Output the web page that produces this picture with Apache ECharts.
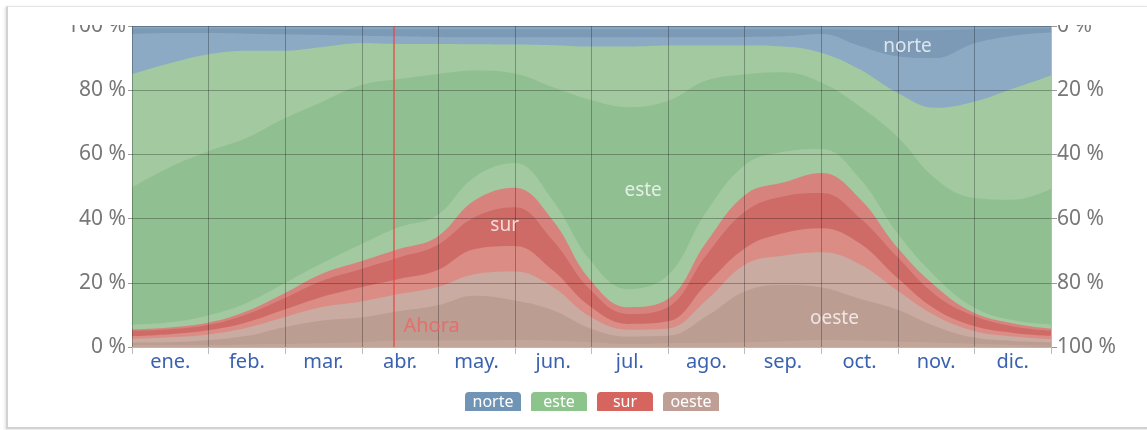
<!DOCTYPE html>
<html>
<head>
<meta charset="utf-8">
<script src="https://cdn.jsdelivr.net/npm/echarts@6/dist/echarts.min.js"></script>
<style>
  html, body { margin: 0; padding: 0; background: #fff; width: 1147px; height: 430px; overflow: hidden; }
  #card { position: absolute; left: 6px; top: 6px; width: 1141px; height: 420px;
          border-top: 1px solid #e6e6e6; border-left: 2px solid #d2d2d2; border-bottom: 2px solid #d2d2d2;
          box-shadow: -1px 1px 3px rgba(0,0,0,0.12); }
  #clip { position: absolute; left: 0; top: 25px; width: 1147px; height: 401px; overflow: hidden; }
  #chart { position: absolute; left: 0; top: -25px; width: 1147px; height: 430px; }
</style>
</head>
<body>
<div id="card"></div>
<div id="clip"><div id="chart"></div></div>
<script>
// meses del eje x
var months = ['ene.', 'feb.', 'mar.', 'abr.', 'may.', 'jun.', 'jul.', 'ago.', 'sep.', 'oct.', 'nov.', 'dic.'];

// día del año de cada muestra
var days = [0, 15, 31, 46, 60, 75, 91, 106, 121, 136, 152, 167, 182, 197, 213, 228, 244, 259, 274, 289, 304, 319, 334, 350, 365];

// borde superior (acumulado, % de horas) de cada banda, de arriba abajo
var norte   = [99.2, 99.2, 99.2, 99.2, 99.1, 99.1, 99.0, 99.0, 99.0, 99.0, 99.0, 99.0, 99.0, 99.0, 99.0, 99.0, 99.0, 99.0, 99.0, 98.8, 98.7, 98.7, 99.0, 99.2, 99.3];
var norteNE = [97.5, 97.8, 97.8, 97.6, 97.4, 97.2, 97.0, 96.8, 96.6, 96.5, 96.5, 96.5, 96.5, 96.5, 96.5, 96.5, 96.6, 96.8, 97.5, 93.8, 90.6, 90.0, 94.5, 97.0, 98.0];
var esteNE  = [85.0, 88.4, 91.3, 92.3, 92.3, 93.4, 94.6, 94.4, 94.4, 94.3, 94.2, 94.0, 93.6, 93.6, 93.9, 93.9, 93.9, 93.6, 91.6, 86.5, 79.2, 74.5, 76.3, 80.5, 84.6];
var este    = [49.7, 56.0, 61.2, 65.3, 71.0, 76.2, 81.6, 83.5, 85.0, 86.1, 85.2, 81.0, 77.0, 74.7, 76.7, 83.0, 85.0, 85.6, 82.3, 75.0, 65.5, 52.5, 46.5, 45.9, 49.3];
var esteSE  = [7.0, 7.7, 10.0, 13.9, 19.6, 25.9, 32.0, 37.3, 40.9, 52.9, 57.3, 45.8, 27.0, 18.0, 22.5, 42.0, 57.0, 60.8, 61.7, 52.5, 35.5, 22.0, 12.5, 8.3, 7.0];
var surSE   = [5.5, 6.1, 7.7, 11.3, 16.5, 22.7, 26.7, 30.5, 34.2, 45.6, 49.6, 39.6, 20.9, 12.4, 15.0, 32.5, 47.7, 51.3, 54.2, 46.3, 31.0, 19.0, 10.8, 7.3, 5.7];
var sur     = [5.0, 5.5, 7.0, 10.3, 15.0, 20.5, 24.3, 27.9, 31.6, 40.4, 43.5, 33.3, 17.8, 10.3, 12.5, 28.5, 42.5, 47.0, 48.0, 40.3, 28.0, 16.3, 9.8, 6.4, 5.1];
var surSO   = [3.4, 4.0, 5.3, 7.8, 11.5, 15.5, 18.6, 21.2, 23.8, 30.5, 31.5, 24.0, 12.6, 7.2, 8.0, 19.5, 31.1, 35.5, 37.0, 32.3, 21.5, 11.8, 6.6, 4.4, 3.5];
var oesteSO = [2.5, 3.0, 4.0, 6.1, 9.2, 12.4, 14.2, 16.5, 18.6, 22.7, 23.5, 18.8, 9.4, 5.4, 5.8, 14.5, 25.9, 28.5, 29.5, 25.8, 17.6, 9.8, 5.1, 3.3, 2.5];
var oeste   = [1.4, 1.5, 2.2, 3.5, 6.1, 8.2, 9.2, 11.1, 12.9, 16.0, 14.5, 11.5, 5.8, 3.3, 3.5, 9.5, 17.5, 19.3, 18.5, 15.0, 11.6, 6.5, 3.0, 1.9, 1.5];
var oesteNO = [0.5, 0.6, 0.7, 0.8, 1.0, 1.2, 1.5, 2.0, 2.0, 2.0, 2.2, 2.0, 1.5, 1.0, 1.2, 1.3, 1.5, 1.8, 2.2, 2.0, 1.7, 1.4, 1.0, 0.7, 0.5];
var full    = days.map(function () { return 100; });

var today = 104;   // línea "Ahora"

var layers = [
  {name: 'norte NO', data: full,    color: '#88a6c0'},
  {name: 'norte',    data: norte,   color: '#7c9ab6'},
  {name: 'norte NE', data: norteNE, color: '#8caac4'},
  {name: 'este NE',  data: esteNE,  color: '#a3c9a0'},
  {name: 'este',     data: este,    color: '#90c092'},
  {name: 'este SE',  data: esteSE,  color: '#a3c9a0'},
  {name: 'sur SE',   data: surSE,   color: '#d8827d'},
  {name: 'sur',      data: sur,     color: '#cf6b66'},
  {name: 'sur SO',   data: surSO,   color: '#da8c85'},
  {name: 'oeste SO', data: oesteSO, color: '#c9aba1'},
  {name: 'oeste',    data: oeste,   color: '#bc9d92'},
  {name: 'oeste NO', data: oesteNO, color: '#c3a59a'}
];

var legendColors = {norte: '#6f94b5', este: '#8cc48c', sur: '#d6645f', oeste: '#bf9f95'};

var chart = echarts.init(document.getElementById('chart'), null, {renderer: 'canvas'});

var series = layers.map(function (l) {
  return {
    name: l.name,
    type: 'line',
    xAxisIndex: 1,
    smooth: 0.4,
    symbol: 'none',
    silent: true,
    lineStyle: {width: 0},
    areaStyle: {color: l.color, opacity: 1},
    emphasis: {disabled: true},
    data: days.map(function (d, i) { return [d, l.data[i]]; })
  };
});

var tagStyle = {color: 'rgba(255,255,255,0.75)', fontSize: 19};
series[series.length - 1].markPoint = {
  symbolSize: 0,
  silent: true,
  label: {show: true, position: 'inside', formatter: '{b}'},
  data: [
    {name: 'norte', coord: [308, 93.5], label: tagStyle},
    {name: 'este',  coord: [203, 48.6], label: tagStyle},
    {name: 'sur',   coord: [148, 37.7], label: tagStyle},
    {name: 'oeste', coord: [279, 8.7],  label: tagStyle},
    {name: 'Ahora', coord: [119, 6.5],  label: {color: 'rgba(236,100,100,0.8)', fontSize: 20}}
  ]
};
series[series.length - 1].markLine = {
  symbol: ['none', 'none'],
  silent: true,
  label: {show: false},
  lineStyle: {color: 'rgba(228,70,70,0.85)', width: 1.5, type: 'solid'},
  data: [{xAxis: today}]
};

var rich = {};
Object.keys(legendColors).forEach(function (k) {
  rich[k] = {
    backgroundColor: legendColors[k], color: '#fff', fontSize: 16, width: 48, align: 'center',
    lineHeight: 18, padding: [2, 4, 1, 4], borderRadius: [4, 4, 0, 0]
  };
});

var option = {
  animation: false,
  textStyle: {fontFamily: 'Noto Sans'},
  grid: {left: 132, right: 96, top: 26, bottom: 83},
  legend: {
    left: 460, top: 392, padding: 0, itemGap: 5, itemWidth: 0, itemHeight: 0, icon: 'none',
    selectedMode: false,
    data: ['norte', 'este', 'sur', 'oeste'],
    formatter: function (name) { return '{' + name + '|' + name + '}'; },
    textStyle: {rich: rich}
  },
  xAxis: [
    {
      type: 'category',
      data: months,
      boundaryGap: true,
      z: 5,
      axisLine: {show: false},
      axisTick: {show: true, alignWithLabel: false, length: 7, lineStyle: {color: '#bbb'}},
      axisLabel: {color: '#3b62b0', fontSize: 20, margin: 5, interval: 0},
      splitLine: {show: true, interval: 0, lineStyle: {color: 'rgba(0,0,0,0.28)'}}
    },
    {type: 'value', min: 0, max: 365, show: false}
  ],
  yAxis: [
    {
      type: 'value', min: 0, max: 100, interval: 20, position: 'left', z: 5,
      axisLine: {show: false},
      axisTick: {show: true, length: 4, lineStyle: {color: '#999'}},
      axisLabel: {formatter: '{value} %', color: '#777', fontSize: 21, margin: 6},
      splitLine: {show: true, lineStyle: {color: 'rgba(0,0,0,0.28)'}}
    },
    {
      type: 'value', min: 0, max: 100, interval: 20, position: 'right', inverse: true, z: 5,
      axisLine: {show: false},
      axisTick: {show: true, length: 6, lineStyle: {color: '#999'}},
      axisLabel: {formatter: '{value} %', color: '#777', fontSize: 21, margin: 6},
      splitLine: {show: false}
    }
  ],
  series: series
};

chart.setOption(option);
</script>
</body>
</html>
